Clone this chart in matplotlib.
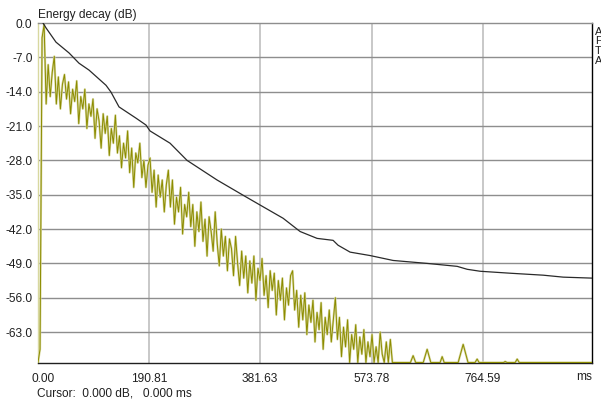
import numpy as np
import matplotlib
matplotlib.use("Agg")
import matplotlib.pyplot as plt
import matplotlib.transforms as mtransforms

plt.rcParams['font.family'] = ['Liberation Sans', 'DejaVu Sans']

# y軸の下限 (床)
FLOOR = -69.2
FS = 8.6

# 積分曲線 (ms, dB)
decay_ms = [8.6, 13.8, 30.9, 53.3, 70.5, 87.7, 116.9, 125.5, 139.2, 168.5, 185.6,
            192.5, 226.9, 256.1, 307.7, 352.4, 381.6, 421.2, 450.4, 479.6, 507.1,
            515.7, 536.3, 570.7, 610.2, 668.7, 720.3, 737.5, 759.8, 811.4, 868.1,
            902.5, 952.3]
decay_db = [0.0, -1.0, -3.9, -6.1, -8.2, -9.6, -12.7, -14.1, -17.1, -19.4, -20.8,
            -22.0, -24.5, -28.0, -32.0, -35.1, -37.1, -39.8, -42.5, -43.9, -44.3,
            -45.3, -46.7, -47.4, -48.4, -49.0, -49.6, -50.2, -50.6, -51.0, -51.4,
            -51.8, -52.0]

# エネルギー (3.5 ms刻み)
step_ms = 3.5
energy_db = [
    -69.2, -66.5, -3.0, -0.3, -16.5,
    -8.5, -15.0, -10.0, -6.8, -16.5,
    -11.0, -17.5, -12.5, -10.5, -15.5,
    -12.0, -18.5, -13.5, -16.0, -11.8,
    -20.5, -15.0, -17.5, -13.5, -21.5,
    -16.5, -19.0, -15.5, -23.5, -17.5,
    -20.0, -25.5, -18.5, -22.5, -19.0,
    -27.0, -21.5, -24.5, -18.8, -26.5,
    -23.0, -29.5, -24.5, -27.5, -22.0,
    -30.5, -25.5, -33.5, -26.5, -28.5,
    -24.5, -31.5, -28.0, -33.5, -29.0,
    -27.5, -34.5, -30.0, -37.5, -31.0,
    -35.5, -32.0, -38.5, -33.0, -30.0,
    -37.5, -32.0, -41.0, -35.5, -38.5,
    -33.5, -43.0, -37.0, -39.5, -34.5,
    -41.5, -37.0, -45.5, -38.5, -42.5,
    -36.5, -44.5, -40.0, -47.5, -39.5,
    -42.5, -46.5, -38.5, -45.0, -49.5,
    -42.0, -47.5, -43.5, -50.5, -44.0,
    -46.0, -51.5, -43.5, -49.0, -53.5,
    -46.5, -52.0, -47.5, -55.0, -48.5,
    -53.0, -47.5, -56.5, -50.0, -52.5,
    -48.0, -55.5, -51.5, -58.0, -50.5,
    -54.5, -51.0, -59.5, -52.5, -56.5,
    -52.0, -60.5, -54.0, -57.5, -51.5,
    -50.5, -58.5, -54.5, -62.0, -55.5,
    -60.5, -55.0, -63.5, -57.5, -61.0,
    -56.5, -65.0, -59.0, -62.5, -57.0,
    -66.5, -60.0, -63.5, -58.5, -65.0,
    -60.5, -56.0, -64.5, -60.0, -68.0,
    -62.0, -66.0, -60.5, -69.2, -63.5,
    -66.5, -61.5, -69.2, -64.0, -67.5,
    -62.5, -69.2, -65.0, -68.0, -63.5,
    -69.2, -66.0, -69.2, -63.0, -67.5,
    -69.2, -65.0, -69.2, -64.5, -69.2,
    -69.2, -69.2,
]
# 後半の小さなピーク
tail_ms = [640, 644.6, 649, 662, 668.7, 675, 691, 694.5, 698, 722, 730.6, 739,
           751, 754.6, 758, 800, 802.8, 806, 820, 823.4, 827, 952]
tail_db = [FLOOR, -67.8, FLOOR, FLOOR, -66.5, FLOOR, FLOOR, -68.0, FLOOR, FLOOR,
           -65.5, FLOOR, FLOOR, -68.5, FLOOR, FLOOR, -69.0, FLOOR, FLOOR, -68.5,
           FLOOR, FLOOR]

x_ticks = [0.0, 190.81, 381.63, 573.78, 764.59]
x_labels = ['0.00', '190.81', '381.63', '573.78', '764.59']
y_ticks = [0, -7, -14, -21, -28, -35, -42, -49, -56, -63]
y_labels = ['0.0', '-7.0', '-14.0', '-21.0', '-28.0', '-35.0', '-42.0', '-49.0', '-56.0', '-63.0']

t_energy = np.concatenate([np.arange(len(energy_db)) * step_ms, tail_ms])
v_energy = np.concatenate([energy_db, tail_db])

fig = plt.figure(figsize=(6.01, 4.05), dpi=100)
ax = fig.add_axes([38 / 601, 1 - 363 / 405, 554 / 601, 340 / 405])

ax.set_xlim(0, 952)
ax.set_ylim(-69.3, 0)

# グリッド
for t in x_ticks[1:]:
    ax.axvline(t, color='#c4c4c4', lw=1.3, zorder=1)
for v in y_ticks[1:]:
    ax.axhline(v, color='#8e8e8e', lw=1.0, zorder=1)

ax.plot(t_energy, v_energy, color='#d8d8a0', lw=1.6, zorder=2)
ax.plot(t_energy, v_energy, color='#8c8c00', lw=0.7, zorder=3)
ax.plot(decay_ms, decay_db, color='#2a2a2a', lw=0.9, zorder=4)

ax.set_xticks(x_ticks)
ax.set_xticklabels(x_labels)
ax.set_yticks(y_ticks)
ax.set_yticklabels(y_labels)
ax.tick_params(length=0, labelsize=FS, colors='#202020')
ax.tick_params(axis='x', pad=7)
ax.tick_params(axis='y', pad=4)
lbl = ax.get_xticklabels()[0]
lbl.set_transform(lbl.get_transform() + mtransforms.ScaledTranslation(5 / 100, 0, fig.dpi_scale_trans))

ax.spines['top'].set_color('#8e8e8e')
ax.spines['left'].set_color('#d8d8a0')
ax.spines['right'].set_color('black')
ax.spines['bottom'].set_color('#202020')
for s in ax.spines.values():
    s.set_linewidth(1.0)

fig.text(38 / 601, 1 - 18 / 405, 'Energy decay (dB)', fontsize=FS, va='baseline', color='#202020')
fig.text(592 / 601, 1 - 380 / 405, 'ms', fontsize=FS, ha='right', va='baseline', color='#202020')
fig.text(37 / 601, 1 - 397 / 405, 'Cursor:  0.000 dB,   0.000 ms', fontsize=FS, va='baseline', color='#202020')

# 右端の凡例 (切れている)
for i, s in enumerate(['A', 'F', 'T', 'A']):
    fig.text(595 / 601, 1 - (35 + i * 9.5) / 405, s, fontsize=8, va='baseline', color='#202020')

fig.savefig('out.png', dpi=100, facecolor='white')
